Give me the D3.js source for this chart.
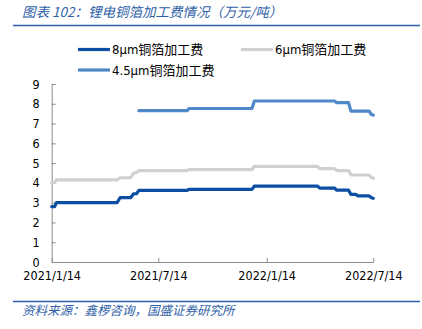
<!DOCTYPE html>
<html><head><meta charset="utf-8">
<script src="https://cdn.jsdelivr.net/npm/d3@7"></script>
<style>
html,body{margin:0;padding:0;background:#fff;}
svg{display:block;}
.tick text{font-family:"DejaVu Sans Condensed","DejaVu Sans",sans-serif;font-size:12.5px;fill:#000;}
</style></head>
<body>
<svg id="c" width="422" height="329"></svg>
<script>
// ---- data ----
const dates = ["2021-01-14","2021-01-19","2021-01-22","2021-05-05","2021-05-10","2021-05-28","2021-06-02","2021-06-07","2021-06-11","2021-09-01","2021-09-04","2021-12-20","2021-12-24","2022-04-10","2022-04-14","2022-05-09","2022-05-13","2022-06-02","2022-06-06","2022-06-14","2022-06-18","2022-07-07","2022-07-11","2022-07-14"];
const s8um  = [2.8,2.8,3.0,3.0,3.25,3.25,3.45,3.45,3.62,3.62,3.67,3.67,3.84,3.84,3.74,3.74,3.63,3.63,3.42,3.42,3.34,3.34,3.25,3.22];
const s6um  = [4.0,4.02,4.15,4.15,4.26,4.26,4.5,4.52,4.62,4.62,4.67,4.67,4.84,4.84,4.72,4.72,4.62,4.62,4.41,4.4,4.4,4.4,4.26,4.24];
const s45um = [null,null,null,null,null,null,null,null,7.65,7.65,7.76,7.76,8.14,8.14,8.14,8.14,8.06,8.06,7.63,7.63,7.63,7.63,7.45,7.43];
const seriesNames = ["8μm铜箔加工费","6μm铜箔加工费","4.5μm铜箔加工费"];
const xTickDates = ["2021-01-14","2021-07-14","2022-01-14","2022-07-14"];
const xTickLabels = ["2021/1/14","2021/7/14","2022/1/14","2022/7/14"];
const yTicks = [0,1,2,3,4,5,6,7,8,9];
const titleText = "图表 102：锂电铜箔加工费情况（万元/吨）";
const sourceText = "资料来源：鑫椤咨询，国盛证券研究所";

// ---- chart ----
const parse = d3.timeParse("%Y-%m-%d");
const colors = ["#0b4ea2","#d0d0d0","#5089c9"];
const seriesVals = [s8um, s6um, s45um];
const svg = d3.select("#c");

const x = d3.scaleTime().domain([parse(dates[0]), parse(dates[dates.length-1])]).range([51.7, 373.3]);
const y = d3.scaleLinear().domain([0,9]).range([262, 84]);

// header
svg.append("text").attr("x",22).attr("y",17)
  .attr("font-family","'Noto Sans CJK SC',sans-serif").attr("font-size",13.5)
  .attr("font-style","italic").attr("fill","#2f5fa8").text(titleText);
svg.append("line").attr("x1",13).attr("x2",420).attr("y1",25.5).attr("y2",25.5)
  .attr("stroke","#2f5fa8").attr("stroke-width",1.5);
// footer
svg.append("line").attr("x1",13).attr("x2",420).attr("y1",301.5).attr("y2",301.5)
  .attr("stroke","#2f5fa8").attr("stroke-width",1.5);
svg.append("text").attr("x",22).attr("y",315)
  .attr("font-family","'Noto Sans CJK SC',sans-serif").attr("font-size",12.5)
  .attr("font-style","italic").attr("fill","#2f5fa8").text(sourceText);

// axes
const xAxis = d3.axisBottom(x)
  .tickValues(xTickDates.map(parse))
  .tickFormat((d,i)=>xTickLabels[i])
  .tickSizeInner(-4).tickSizeOuter(0).tickPadding(12);
const gx = svg.append("g").attr("transform","translate(0,262)").call(xAxis);
const yAxis = d3.axisLeft(y).tickValues(yTicks).tickFormat(d3.format("d"))
  .tickSizeInner(-4).tickSizeOuter(0).tickPadding(12);
const gy = svg.append("g").attr("transform","translate(51.7,0)").call(yAxis);
[gx,gy].forEach(g=>{
  g.selectAll(".domain").attr("stroke","#8c8c8c");
  g.selectAll(".tick line").attr("stroke","#8c8c8c");
});
gx.selectAll(".tick text").attr("dy","0.5em");
gy.selectAll(".tick text").attr("dx","0");

// lines
const line = d3.line()
  .defined(d=>d.v!=null)
  .x(d=>x(d.d)).y(d=>y(d.v));
// draw order: 4.5, 6, 8
[2,1,0].forEach(i=>{
  const data = dates.map((d,j)=>({d:parse(d), v:seriesVals[i][j]}));
  svg.append("path").datum(data).attr("d",line)
    .attr("fill","none").attr("stroke",colors[i]).attr("stroke-width",3.2)
    .attr("stroke-linejoin","round").attr("stroke-linecap","round");
});

// legend
const legendPos = [[78,49.5],[241,49.5],[78,70]];
seriesNames.forEach((n,i)=>{
  const [lx,ly] = legendPos[i];
  svg.append("line").attr("x1",lx).attr("x2",lx+32).attr("y1",ly).attr("y2",ly)
    .attr("stroke",colors[i]).attr("stroke-width",3.2);
  svg.append("text").attr("x",lx+34).attr("y",ly+4.5)
    .attr("font-family","'DejaVu Sans Condensed','DejaVu Sans','Noto Sans CJK SC',sans-serif")
    .attr("font-size",13).attr("fill","#000").text(n);
});
</script>
</body></html>
